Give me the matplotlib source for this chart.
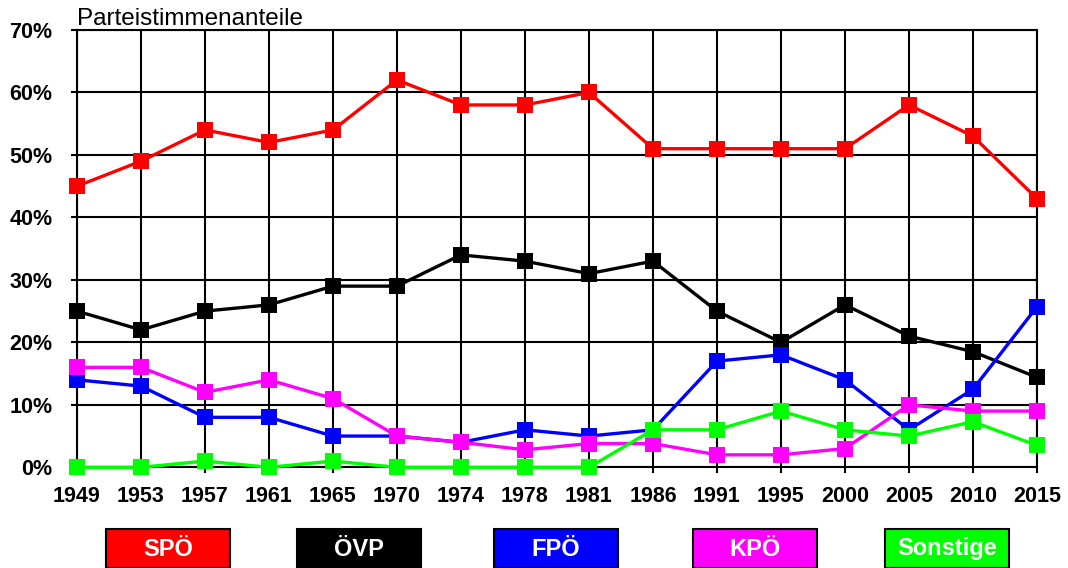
import matplotlib
matplotlib.use("Agg")
import matplotlib.pyplot as plt
import numpy as np
from matplotlib.ticker import PercentFormatter
from matplotlib.patches import Rectangle

plt.rcParams['font.family'] = ['Liberation Sans', 'DejaVu Sans']

years = ["1949", "1953", "1957", "1961", "1965", "1970", "1974", "1978",
         "1981", "1986", "1991", "1995", "2000", "2005", "2010", "2015"]
spoe = [45, 49, 54, 52, 54, 62, 58, 58, 60, 51, 51, 51, 51, 58, 53, 43]
oevp = [25, 22, 25, 26, 29, 29, 34, 33, 31, 33, 25, 20, 26, 21, 18.5, 14.4]
fpoe = [14, 13, 8, 8, 5, 5, 4, 6, 5, 6, 17, 18, 14, 6, 12.5, 25.7]
kpoe = [16, 16, 12, 14, 11, 5, 4, 2.8, 3.8, 3.8, 2, 2, 3, 10, 9, 9]
sonst = [0, 0, 1, 0, 1, 0, 0, 0, 0, 6, 6, 9, 6, 5, 7.3, 3.5]

series_names = ["SPÖ", "ÖVP", "FPÖ", "KPÖ", "Sonstige"]
series_vals = [spoe, oevp, fpoe, kpoe, sonst]
colors = ["#ff0000", "#000000", "#0000ff", "#ff00ff", "#00ff00"]

W, H = 1068, 568
fig = plt.figure(figsize=(W / 100, H / 100), dpi=100)
x0, x1, y0, y1 = 77, 1037, 30, 467.3
ax = fig.add_axes([x0 / W, 1 - y1 / H, (x1 - x0) / W, (y1 - y0) / H])

x = np.arange(len(years))
for vals, c in zip(series_vals, colors):
    ax.plot(x, np.array(vals) / 100.0, color=c, lw=2.4, marker='s',
            markersize=11.5, markeredgewidth=0, clip_on=False, zorder=3)

ax.set_xlim(0, len(years) - 1)
ax.set_ylim(0, 0.7)
ax.set_xticks(x)
ax.set_xticklabels(years)
ax.set_yticks(np.arange(0, 0.71, 0.1))
ax.yaxis.set_major_formatter(PercentFormatter(1.0, decimals=0))
ax.grid(True, color='black', lw=1.5)
ax.set_axisbelow(True)
for s in ax.spines.values():
    s.set_color('black')
    s.set_linewidth(1.5)
ax.tick_params(axis='x', length=4.5, width=1.5, pad=9, labelsize=15.5)
ax.tick_params(axis='y', length=4.5, width=1.5, pad=13, labelsize=15.5)
for lab in ax.get_xticklabels() + ax.get_yticklabels():
    lab.set_fontweight('bold')

fig.text(x0 / W, 1 - 25 / H, "Parteistimmenanteile", fontsize=17.5,
         ha='left', va='baseline')

box_left = [106, 297, 494, 693, 885]
box_w, box_top = 124, 529
for name, c, bl in zip(series_names, colors, box_left):
    r = Rectangle((bl / W, 0), box_w / W, 1 - box_top / H, transform=fig.transFigure,
                  facecolor=c, edgecolor='black', lw=1.5)
    fig.add_artist(r)
    fig.text((bl + box_w / 2) / W, 1 - 549 / H, name, color='white',
             fontsize=17, fontweight='bold', ha='center', va='center')

fig.savefig("out.png", dpi=100)
